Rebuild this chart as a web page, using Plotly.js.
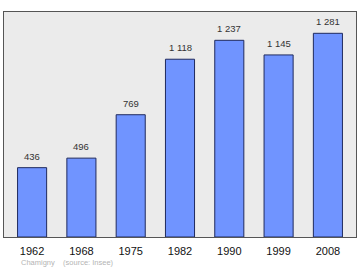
<!DOCTYPE html>
<html><head><meta charset="utf-8">
<script src="https://cdn.plot.ly/plotly-3.0.1.min.js"></script>
<style>body{margin:0;background:#fff}#c{width:360px;height:270px}</style>
</head><body><div id="c"></div>
<script>
const years = ['1962','1968','1975','1982','1990','1999','2008'];
const population = [436, 496, 769, 1118, 1237, 1145, 1281];
const labels = ['436','496','769','1 118','1 237','1 145','1 281'];
const sourceText = 'Chamigny\u00a0\u00a0\u00a0\u00a0(source: Insee)';

const trace = {
  type: 'bar', x: years, y: population, width: 0.59,
  marker: {color: '#7094ff', line: {color: '#1f2a5e', width: 1}},
  hoverinfo: 'skip'
};
const annotations = years.map((yr, i) => ({
  xref: 'x', yref: 'y', x: i, y: population[i], text: labels[i], showarrow: false,
  yanchor: 'bottom', yshift: 4,
  font: {family: 'Liberation Sans, Arial, sans-serif', size: 9.5, color: '#333'}
}));
annotations.push({
  xref: 'paper', yref: 'paper', x: 0.043, y: -0.1145, xanchor: 'left', yanchor: 'middle',
  text: sourceText, showarrow: false,
  font: {family: 'Liberation Sans, Arial, sans-serif', size: 7.5, color: '#b4b4b4'}
});
const layout = {
  width: 360, height: 270,
  margin: {l: 4, r: 4, t: 12, b: 33},
  paper_bgcolor: '#fff', plot_bgcolor: '#ebebeb',
  showlegend: false,
  xaxis: {type: 'category', range: [-0.57, 6.57], showline: true, mirror: true,
    linecolor: '#555', linewidth: 1, ticks: '', showgrid: false, fixedrange: true,
    ticklabelstandoff: 4,
    tickfont: {family: 'Liberation Sans, Arial, sans-serif', size: 11, color: '#111'}},
  yaxis: {range: [0, 1415], showline: true, mirror: true, linecolor: '#555', linewidth: 1,
    showticklabels: false, ticks: '', showgrid: false, zeroline: false, fixedrange: true},
  annotations: annotations
};
Plotly.newPlot('c', [trace], layout, {displayModeBar: false, staticPlot: true});
</script></body></html>
